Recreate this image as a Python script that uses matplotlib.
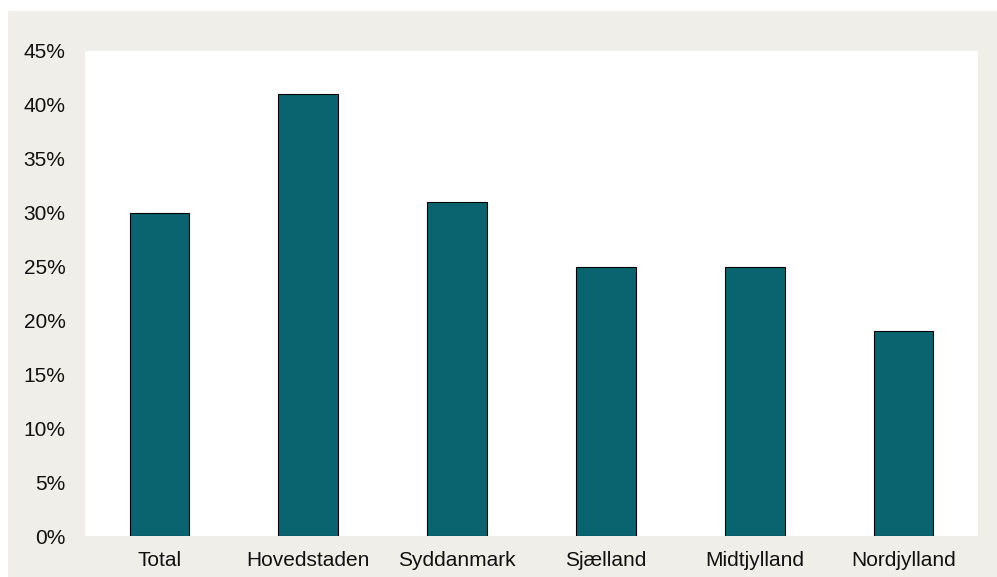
import matplotlib.pyplot as plt
from matplotlib.patches import Rectangle
from matplotlib.ticker import FuncFormatter

regions = ["Total", "Hovedstaden", "Syddanmark", "Sjælland", "Midtjylland", "Nordjylland"]
shares = [30, 41, 31, 25, 25, 19]

plt.rcParams['font.family'] = ['Liberation Sans', 'DejaVu Sans']

W, H = 997, 577
fig = plt.figure(figsize=(W / 100, H / 100), dpi=100)
fig.patch.set_facecolor('white')
fig.add_artist(Rectangle((8 / W, 0), 1 - 8 / W, 1 - 11 / H, transform=fig.transFigure,
                         facecolor='#efeee8', edgecolor='none', zorder=0))

ax = fig.add_axes([85 / W, 1 - 536 / H, (978 - 85) / W, (536 - 51) / H])
ax.set_facecolor('white')
ax.bar(range(len(regions)), shares, width=0.40, color='#0a6470', edgecolor='black', linewidth=0.8)

ax.set_xlim(-0.5, len(regions) - 0.5)
ax.set_ylim(0, 45)
ax.set_yticks(range(0, 46, 5))
ax.yaxis.set_major_formatter(FuncFormatter(lambda v, p: f"{v:.0f}%"))
ax.set_xticks(range(len(regions)))
ax.set_xticklabels(regions)
ax.tick_params(length=0, labelsize=15, colors='#111111')
ax.tick_params(axis='x', pad=11)
ax.tick_params(axis='y', pad=14)
for s in ax.spines.values():
    s.set_visible(False)

fig.savefig("out.png", dpi=100)
